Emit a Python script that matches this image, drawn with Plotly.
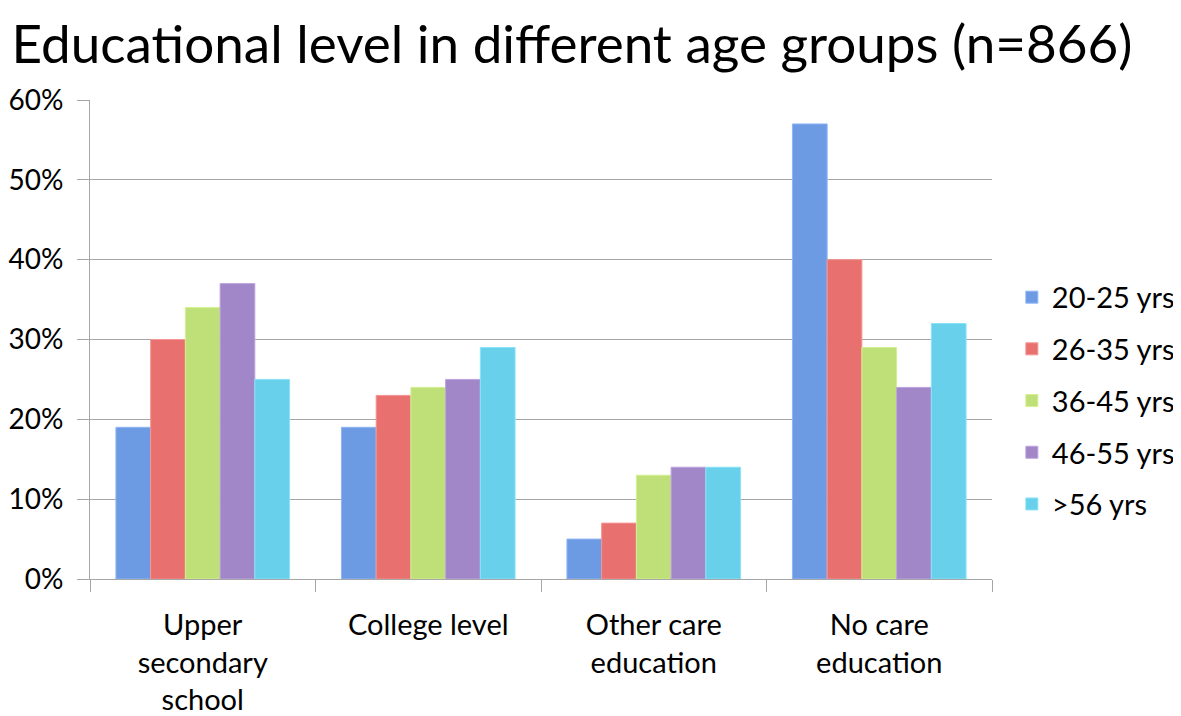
import plotly.graph_objects as go

categories = ["Upper<br>secondary<br>school", "College level", "Other care<br>education", "No care<br>education"]
age_groups = ["20-25 yrs", "26-35 yrs", "36-45 yrs", "46-55 yrs", ">56 yrs"]
v_20_25 = [0.19, 0.19, 0.05, 0.57]
v_26_35 = [0.30, 0.23, 0.07, 0.40]
v_36_45 = [0.34, 0.24, 0.13, 0.29]
v_46_55 = [0.37, 0.25, 0.14, 0.24]
v_56 = [0.25, 0.29, 0.14, 0.32]
series = [v_20_25, v_26_35, v_36_45, v_46_55, v_56]
colors = ["#6c9be3", "#e8716f", "#bfe078", "#a287c8", "#68d0ea"]
line_colors = ["#8fb5f5", "#f59593", "#d3f090", "#bba3df", "#8ae3f7"]

FONT = "Lato, Open Sans, sans-serif"

fig = go.Figure()
for name, vals, c, lc in zip(age_groups, series, colors, line_colors):
    fig.add_trace(go.Bar(
        x=categories, y=vals, name=name, legendgroup=name,
        marker=dict(color=c, line=dict(color=lc, width=1)),
    ))

fig.update_layout(
    width=1181, height=716,
    paper_bgcolor="white", plot_bgcolor="white",
    margin=dict(l=82, r=197, t=92, b=145, autoexpand=False),
    barmode="group", bargap=0.23, bargroupgap=0,
    title=dict(text="Educational level in different age groups (n=866)",
               x=0.003, xanchor="left", y=0.975, yanchor="top",
               font=dict(family=FONT, size=53, color="black")),
    font=dict(family=FONT, color="black"),
    legend=dict(x=1.022, xanchor="left", y=0.372, yanchor="middle",
                traceorder="grouped", tracegroupgap=11,
                font=dict(family=FONT, size=29, color="black"),
                itemwidth=30),
    showlegend=True,
)
fig.update_yaxes(range=[0, 0.6], dtick=0.1, tickformat=".0%",
                 showgrid=True, gridcolor="#a6a6a6", gridwidth=1,
                 showline=True, linecolor="#a6a6a6", linewidth=1,
                 ticks="outside", ticklen=12, tickcolor="#a6a6a6",
                 ticklabelstandoff=8,
                 tickfont=dict(family=FONT, size=28, color="black"),
                 zeroline=False)
fig.update_xaxes(showline=True, linecolor="#a6a6a6", linewidth=1,
                 ticks="outside", tickson="boundaries", ticklen=12, tickcolor="#a6a6a6",
                 ticklabelstandoff=20,
                 tickfont=dict(family=FONT, size=29, color="black"),
                 showgrid=False)

fig.write_html("out.html")
